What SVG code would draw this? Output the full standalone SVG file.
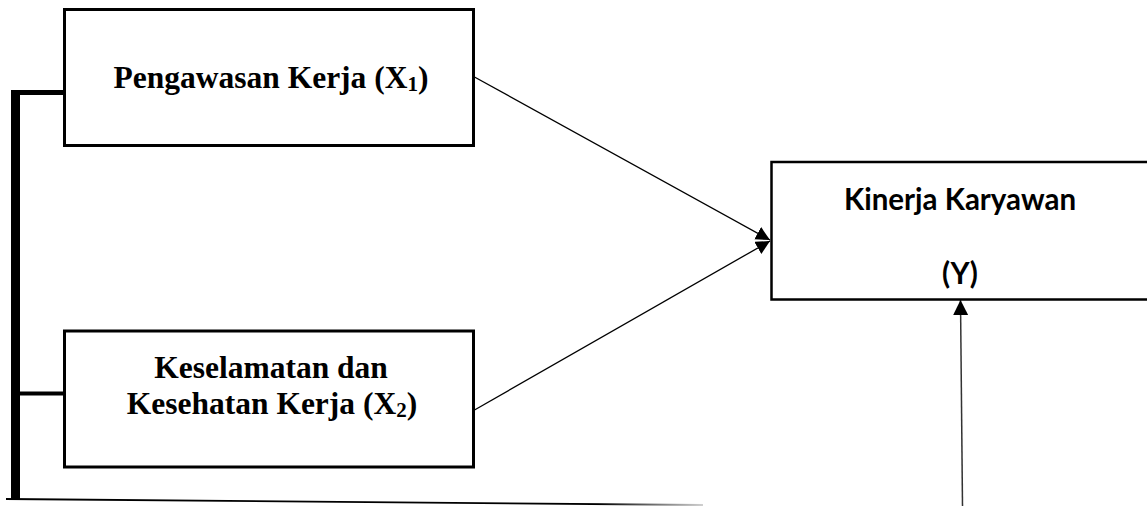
<svg xmlns="http://www.w3.org/2000/svg" width="1147" height="506" viewBox="0 0 1147 506">
  <style>
    .box { fill: #fff; stroke: #000; stroke-width: 3; }
    .ybox { fill: #fff; stroke: #000; stroke-width: 2.5; }
    .tnr { font-family: "Liberation Serif", "Times New Roman", serif; font-weight: bold; font-size: 31.5px; fill: #000; }
    .cal { font-family: Lato, "Open Sans", sans-serif; font-weight: bold; font-size: 29.5px; fill: #000; }
    .sub { font-size: 21px; }
    .thin { fill: none; stroke: #000; stroke-width: 1.3; }
  </style>
  <defs>
    <marker id="arrow" markerUnits="userSpaceOnUse" markerWidth="16" markerHeight="16" refX="14" refY="7" orient="auto">
      <path d="M0,0 L14,7 L0,14 Z" fill="#000"/>
    </marker>
    <marker id="arrowUp" markerUnits="userSpaceOnUse" markerWidth="16" markerHeight="16" refX="15" refY="7.5" orient="auto">
      <path d="M0,0 L15,7.5 L0,15 Z" fill="#000"/>
    </marker>
    <linearGradient id="fade" gradientUnits="userSpaceOnUse" x1="6" y1="0" x2="703" y2="0">
      <stop offset="0" stop-color="#000"/>
      <stop offset="0.85" stop-color="#000"/>
      <stop offset="1" stop-color="#d0d0d0"/>
    </linearGradient>
  </defs>

  <g id="connectors">
    <rect x="11" y="90" width="9" height="409" fill="#000"/>
    <rect x="11" y="90" width="53" height="5" fill="#000"/>
    <rect x="11" y="391.5" width="53" height="4" fill="#000"/>
    <path d="M6,499 L703,505" fill="none" stroke="url(#fade)" stroke-width="1.8"/>
    <path class="thin" d="M469,74 L770,240" marker-end="url(#arrow)"/>
    <path class="thin" d="M471,412 L770,241" marker-end="url(#arrow)"/>
    <path d="M962.5,506 L960.5,300" fill="none" stroke="#333" stroke-width="1.5" marker-end="url(#arrowUp)"/>
  </g>

  <g id="node-x1">
    <rect class="box" x="64.5" y="9.5" width="409" height="136"/>
    <text class="tnr" x="271" y="88" text-anchor="middle">Pengawasan Kerja (X<tspan class="sub" dy="3">1</tspan><tspan dy="-3">)</tspan></text>
  </g>

  <g id="node-x2">
    <rect class="box" x="64.5" y="331" width="409" height="136"/>
    <text class="tnr" x="271" y="378" text-anchor="middle">Keselamatan dan</text>
    <text class="tnr" x="272" y="414" text-anchor="middle">Kesehatan Kerja (X<tspan class="sub" dy="3">2</tspan><tspan dy="-3">)</tspan></text>
  </g>

  <g id="node-y">
    <rect class="ybox" x="771.5" y="162" width="400" height="137.5"/>
    <text class="cal" x="960" y="210" text-anchor="middle">Kinerja Karyawan</text>
    <text class="cal" x="960" y="284" text-anchor="middle">(Y)</text>
  </g>
</svg>
